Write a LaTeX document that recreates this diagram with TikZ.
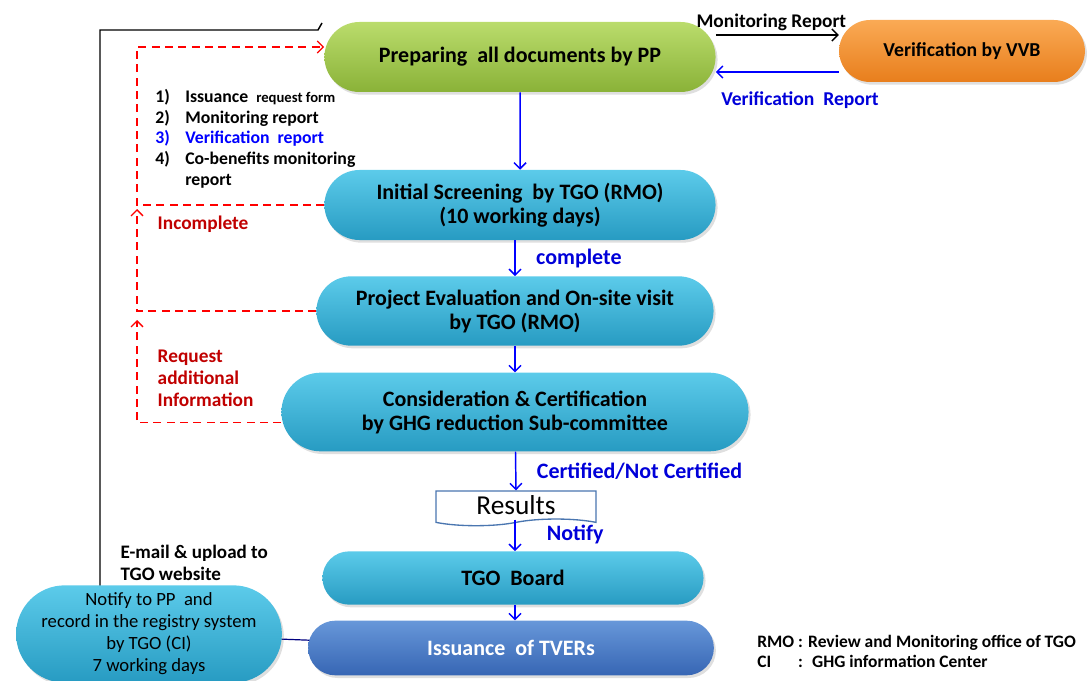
\documentclass[tikz,border=0pt]{standalone}
\usepackage{fontspec}
\setmainfont{Carlito}
\usepackage{tikz}
\usetikzlibrary{positioning,shapes.misc,shapes.symbols,shadows,backgrounds,arrows.meta}

\definecolor{grntop}{HTML}{BADC6C}
\definecolor{grnbot}{HTML}{8AB238}
\definecolor{orgtop}{HTML}{FAAA55}
\definecolor{orgbot}{HTML}{E87E1C}
\definecolor{cyntop}{HTML}{5CCBEA}
\definecolor{cynbot}{HTML}{279BC2}
\definecolor{tvtop}{HTML}{6797D9}
\definecolor{tvbot}{HTML}{3766B4}
\definecolor{darkred}{HTML}{C00000}
\definecolor{docline}{HTML}{4A76B0}

\newcommand{\docnum}[1]{\makebox[22.5pt][l]{#1}}

\tikzset{
    >={Straight Barb[length=4.5pt,width=9pt]},
    pill/.style={rounded rectangle,draw=none,font=\fontsize{16.5}{18}\selectfont\bfseries,align=center,
        drop shadow={opacity=0.25,shadow xshift=1.5pt,shadow yshift=-2pt}},
    greenpill/.style={pill,top color=grntop,bottom color=grnbot},
    orangepill/.style={pill,top color=orgtop,bottom color=orgbot},
    cyanpill/.style={pill,top color=cyntop,bottom color=cynbot},
    bluepill/.style={pill,top color=tvtop,bottom color=tvbot,text=white},
    flow/.style={->,blue,line width=1.1pt},
    lbl/.style={font=\fontsize{16.5}{18}\selectfont\bfseries,text=blue!85!black},
    redret/.style={->,red,dashed,dash pattern=on 6pt off 4pt,line width=1pt},
    redlbl/.style={font=\fontsize{14.5}{16.5}\selectfont\bfseries,text=darkred,align=left},
}

\begin{document}
\begin{tikzpicture}[x=0.75pt,y=-0.75pt]
    \useasboundingbox (0,0) rectangle (1092,681);
    \def\rx{137}

    % main chain
    \node[greenpill,minimum width=300pt,minimum height=52.5pt] (prep) at (520,57) {Preparing \ all documents by PP};
    \node[orangepill,minimum width=191pt,minimum height=46.5pt,font=\fontsize{14.8}{16}\selectfont\bfseries] (vvb) at (962,51) {Verification by VVB};
    \node[cyanpill,minimum width=300pt,minimum height=52.5pt] (screen) at (520,205) {Initial Screening \ by TGO (RMO)\\(10 working days)};
    \node[cyanpill,minimum width=304.5pt,minimum height=52pt] (eval) at (515,311) {Project Evaluation and On-site visit\\by TGO (RMO)};
    \node[cyanpill,minimum width=357pt,minimum height=59pt] (consid) at (515,412) {Consideration \& Certification\\by GHG reduction Sub-committee};
    \node[tape,draw=docline,line width=1pt,fill=white,tape bend top=none,tape bend height=5pt,
        minimum width=120pt,minimum height=24pt,font=\fontsize{20.5}{22}\selectfont] (res) at (516,505) {Results};
    \node[cyanpill,minimum width=292.5pt,minimum height=40pt] (board) at (513,578) {TGO \ Board};
    \node[bluepill,minimum width=311pt,minimum height=41pt] (tvers) at (511,648) {Issuance \ of TVERs};
    \node[cyanpill,minimum width=206pt,minimum height=73pt,font=\fontsize{14}{16.5}\selectfont] (notify) at (149,634)
        {Notify to PP \ and\\record in the registry system\\by TGO (CI)\\7 working days};

    % documents list
    \node[anchor=north west,inner sep=0pt,align=left,font=\fontsize{13.3}{15.5}\selectfont\bfseries] (docs) at (155,89) {%
        \docnum{1)}Issuance \ {\fontsize{11}{15.5}\selectfont request form}\\
        \docnum{2)}Monitoring report\\
        \textcolor{blue}{\docnum{3)}Verification \ report}\\
        \docnum{4)}Co-benefits monitoring\\
        \docnum{}report};

    % PP <-> VVB
    \draw[->,black,line width=1.1pt] (prep.east |- 0,35) -- (vvb.west |- 0,35)
        node[midway,above=-1pt,xshift=-4.5pt,font=\fontsize{14.5}{16}\selectfont\bfseries] (mrlbl) {Monitoring Report};
    \draw[->,blue,line width=1.1pt] (vvb.west |- 0,72) -- (prep.east |- 0,72)
        node[midway,below=11pt,xshift=17pt,lbl,font=\fontsize{14.7}{16}\selectfont\bfseries] (vrlbl) {Verification \ Report};

    % vertical flow
    \draw[flow] (prep) -- (screen);
    \draw[flow] (screen.south -| eval) -- node[right=12pt,lbl] (cmpl) {complete} (eval.north);
    \draw[flow] (consid) -- node[right=12pt,lbl] (cert) {Certified/Not Certified} (res.north);
    \draw[flow] (res.south -| consid) -- node[right=20pt,lbl,yshift=1pt] (ntfy) {Notify} (board.north -| consid);
    \foreach \a/\b in {eval/consid,board/tvers} {
        \draw[flow] (\a.south -| consid) -- (\b.north -| consid);
    }

    % returns
    \draw[redret] (screen.west) -| (\rx,47) -- (prep.west |- 0,47);
    \draw[redret] (eval.west) -| (\rx,209);
    \draw[redret] ([yshift=-8pt]consid.west) -| (\rx,320);
    \node[redlbl,anchor=west] (incl) at (153,224) {Incomplete};
    \node[redlbl,anchor=north west] (reql) at (153,345) {Request\\additional\\Information};

    % TVERs -> notify -> PP
    \begin{scope}[on background layer]
        \draw[blue!50!black,line width=0.9pt] (tvers.center) -- (notify.center);
        \coordinate (mailturn) at (100,30);
        \coordinate (mailend) at (322,23);
        \draw[black,line width=1.1pt] (mailturn |- notify.center) -- (mailturn) -- (318,30) -- (mailend);
    \end{scope}
    \node[anchor=north west,align=left,font=\fontsize{14.3}{16.5}\selectfont\bfseries] (mail) at (116,540) {E-mail \& upload to\\TGO website};

    % legend
    \node[anchor=north west,inner sep=0pt,font=\fontsize{13.1}{15}\selectfont\bfseries] (legend) at (757,633) {%
        \begin{tabular}{@{}l@{ }l@{}}
        RMO & : Review and Monitoring office of TGO\\
        CI & : \ GHG information Center
        \end{tabular}};
\end{tikzpicture}
\end{document}
